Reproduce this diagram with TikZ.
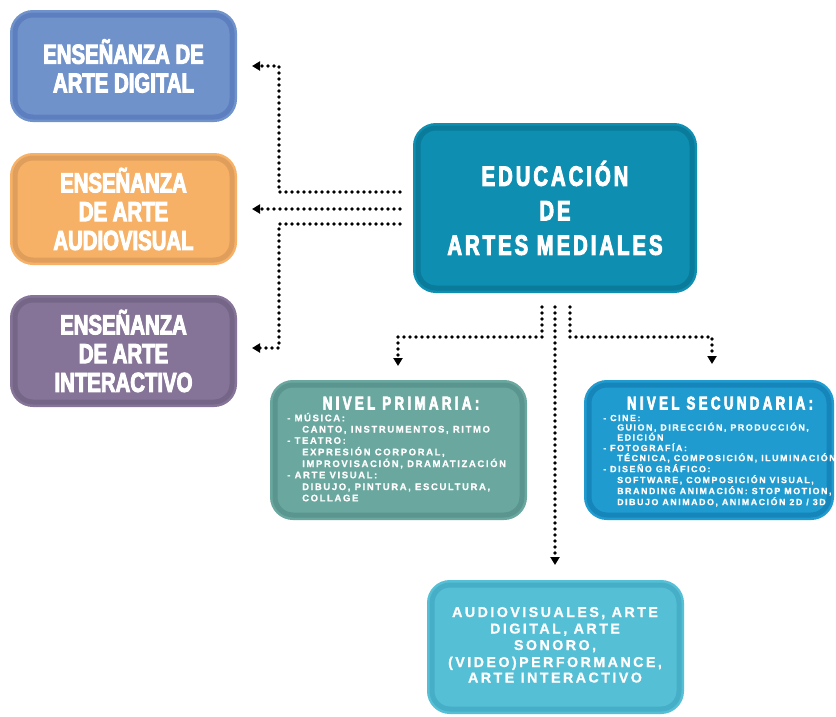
\documentclass[tikz,border=0pt]{standalone}
\usepackage{fontspec}
\usetikzlibrary{arrows.meta}
\setmainfont{Liberation Sans}
\newfontfamily\headfont{Liberation Sans}[FakeStretch=0.74,BoldFeatures={FakeBold=3.5}]
\newfontfamily\headsp{Liberation Sans}[FakeStretch=0.72,BoldFeatures={FakeBold=3.5},LetterSpace=11]
\newfontfamily\headwide{Liberation Sans}[FakeStretch=0.72,BoldFeatures={FakeBold=3.5},LetterSpace=18]
\newfontfamily\listfont{Liberation Sans}[LetterSpace=17,BoldFeatures={FakeBold=0.8}]
\definecolor{digF}{HTML}{7092CB}\definecolor{digD}{HTML}{5E7FBF}
\definecolor{audF}{HTML}{F6B166}\definecolor{audD}{HTML}{E09E5C}
\definecolor{intF}{HTML}{857497}\definecolor{intD}{HTML}{756688}
\definecolor{cenF}{HTML}{0E8EB0}\definecolor{cenD}{HTML}{0A7B9B}
\definecolor{priF}{HTML}{69A79F}\definecolor{priD}{HTML}{5A968F}
\definecolor{secF}{HTML}{1F9BD0}\definecolor{secD}{HTML}{1686BA}
\definecolor{botF}{HTML}{55BFD6}\definecolor{botD}{HTML}{46AFC7}
\tikzset{
  cbox/.style 2 args={rounded corners=18pt, inner sep=0pt, fill=#1, draw=#2, line width=5pt,
     preaction={draw=#1, fill=#1, line width=10pt}, text=white, align=center},
  bigtxt/.style={font=\headfont\bfseries\fontsize{27.5}{28.8}\selectfont},
  centxt/.style={font=\headsp\bfseries\fontsize{28}{34.5}\selectfont},
  subhead/.style={text=white, inner sep=0pt, anchor=base, font=\headwide\bfseries\fontsize{18.5}{20}\selectfont},
  ptxt/.style={text=white, inner sep=0pt, anchor=base west, font=\listfont\bfseries\fontsize{9.5}{11}\selectfont},
  stxt/.style={text=white, inner sep=0pt, anchor=base west, font=\listfont\bfseries\fontsize{8.9}{10}\selectfont},
  btxt/.style={text=white, inner sep=0pt, anchor=base, font=\listfont\bfseries\fontsize{14.3}{16}\selectfont},
  dotline/.style={line width=3.6pt, line cap=round, dash pattern=on 0pt off 6pt},
  tip/.style={-{Triangle[length=8pt,width=9pt]}},
}
\begin{document}
\begin{tikzpicture}[x=1pt,y=-1pt]
\useasboundingbox[fill=white] (0,0) rectangle (836,716);
% boxes
\node[cbox={digF}{digD}, minimum width=217pt, minimum height=102pt, bigtxt] (dig) at (123.5,66) {ENSEÑANZA DE\\ARTE DIGITAL};
\node[cbox={audF}{audD}, minimum width=217pt, minimum height=102pt, bigtxt] (aud) at (123.5,209) {ENSEÑANZA\\DE ARTE\\AUDIOVISUAL};
\node[cbox={intF}{intD}, minimum width=217pt, minimum height=102pt, bigtxt] (int) at (123.5,351) {ENSEÑANZA\\DE ARTE\\INTERACTIVO};
\node[cbox={cenF}{cenD}, minimum width=274pt, minimum height=160pt, centxt] (cen) at (555,208) {EDUCACIÓN\\DE\\ARTES MEDIALES};
\node[cbox={priF}{priD}, minimum width=247pt, minimum height=130pt] (prim) at (398.5,450) {};
\node[cbox={secF}{secD}, minimum width=240pt, minimum height=130pt] (sec) at (709,450) {};
\node[cbox={botF}{botD}, minimum width=247pt, minimum height=124pt] (bot) at (555.5,647) {};
% primaria text
\node[subhead] (ptitle) at (401,409.5) {NIVEL PRIMARIA:};
\node[ptxt] (p1) at (287,421.3) {- MÚSICA:};
\node[ptxt] (p2) at (302,432.5) {CANTO, INSTRUMENTOS, RITMO};
\node[ptxt] (p3) at (287,443.8) {- TEATRO:};
\node[ptxt] (p4) at (302,455.3) {EXPRESIÓN CORPORAL,};
\node[ptxt] (p5) at (302,467.0) {IMPROVISACIÓN, DRAMATIZACIÓN};
\node[ptxt] (p6) at (287,478.3) {- ARTE VISUAL:};
\node[ptxt] (p7) at (302,490.0) {DIBUJO, PINTURA, ESCULTURA,};
\node[ptxt] (p8) at (302,501.3) {COLLAGE};
% secundaria text
\node[subhead] (stitle) at (720,409.5) {NIVEL SECUNDARIA:};
\node[stxt] (s1) at (603,421.1) {- CINE:};
\node[stxt] (s2) at (617,430.5) {GUION, DIRECCIÓN, PRODUCCIÓN,};
\node[stxt] (s3) at (617,440.5) {EDICIÓN};
\node[stxt] (s4) at (603,451.1) {- FOTOGRAFÍA:};
\node[stxt] (s5) at (617,461.1) {TÉCNICA, COMPOSICIÓN, ILUMINACIÓN};
\node[stxt] (s6) at (603,472.1) {- DISEÑO GRÁFICO:};
\node[stxt] (s7) at (617,483.1) {SOFTWARE, COMPOSICIÓN VISUAL,};
\node[stxt] (s8) at (617,494.1) {BRANDING ANIMACIÓN: STOP MOTION,};
\node[stxt] (s9) at (617,505.1) {DIBUJO ANIMADO, ANIMACIÓN 2D / 3D};
% bottom text
\node[btxt] (b1) at (555,617) {AUDIOVISUALES, ARTE};
\node[btxt] (b2) at (555,633.5) {DIGITAL, ARTE};
\node[btxt] (b3) at (555,650) {SONORO,};
\node[btxt] (b4) at (555,667) {(VIDEO)PERFORMANCE,};
\node[btxt] (b5) at (555,682.5) {ARTE INTERACTIVO};
% connector points
\coordinate (l1) at (400,192);
\coordinate (l2) at (400,209);
\coordinate (l3) at (400,224);
\coordinate (k1) at (279,192);
\coordinate (k3) at (279,224);
\coordinate (t1) at (252,66);
\coordinate (t2) at (252,209);
\coordinate (t3) at (252,348);
\coordinate (d1) at (542,307);
\coordinate (d2) at (555,307);
\coordinate (d3) at (570,307);
\coordinate (e1) at (398,366);
\coordinate (e2) at (555,565);
\coordinate (e3) at (712,364);
% connectors
\draw[dotline,tip] (l1) -- (k1) -- (k1 |- t1) -- (t1);
\draw[dotline,tip] (l2) -- (t2);
\draw[dotline,tip] (l3) -- (k3) -- (k3 |- t3) -- (t3);
\draw[dotline,tip] (d1) -- (d1 |- 0,337) -- (e1 |- 0,337) -- (e1);
\draw[dotline,tip] (d2) -- (e2);
\draw[dotline,tip] (d3) -- (d3 |- 0,337) -- (e3 |- 0,337) -- (e3);
\end{tikzpicture}
\end{document}
